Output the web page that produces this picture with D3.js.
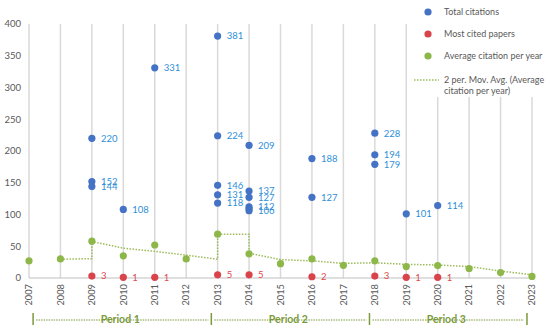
<!DOCTYPE html>
<html>
<head>
<meta charset="utf-8">
<script src="https://cdn.jsdelivr.net/npm/d3@7"></script>
<style>
	body { margin: 0; background: #fff; }
	svg { display: block; font-family: Lato, 'Open Sans', sans-serif; }
</style>
</head>
<body>
<div id="chart"></div>
<script>
// ? data
const years = d3.range(2007, 2024)
const yTicks = [0, 50, 100, 150, 200, 250, 300, 350, 400]

const totalYears = [2009, 2009, 2009, 2010, 2011, 2013, 2013, 2013, 2013, 2013, 2014, 2014, 2014, 2014, 2014, 2014, 2016, 2016, 2018, 2018, 2018, 2019, 2020]
const totalValues = [220, 152, 144, 108, 331, 381, 224, 146, 131, 118, 209, 137, 127, 112, 109, 106, 188, 127, 228, 194, 179, 101, 114]
const totalLabels = ['220', '152', '144', '108', '331', '381', '224', '146', '131', '118', '209', '137', '127', '112', '', '106', '188', '127', '228', '194', '179', '101', '114']

const mostYears = [2009, 2010, 2011, 2013, 2014, 2016, 2018, 2019, 2020]
const mostValues = [3, 1, 1, 5, 5, 2, 3, 1, 1]

const avgYears = years
const avgValues = [27, 30, 58, 35, 52, 30, 69, 38, 22.5, 30, 20, 27, 18, 19.5, 15, 8.5, 2.5]

// 2 per. moving average, as drawn (repeated years = vertical steps)
const movYears = [2008, 2009, 2009, 2010, 2011, 2012, 2013, 2013, 2014, 2014, 2015, 2016, 2017, 2018, 2019, 2020, 2021, 2022, 2023]
const movValues = [29.5, 30.5, 57.5, 47, 42, 36, 29.5, 69, 69, 39, 29, 27, 23, 24, 21.5, 20.5, 18, 11, 5]

const periods = ['Period 1', 'Period 2', 'Period 3']
const periodBounds = [2007.13, 2012.8, 2017.83, 2022.84]

const legendItems = [
	{ label: ['Total citations'], color: '#4472c4' },
	{ label: ['Most cited papers'], color: '#d9444a' },
	{ label: ['Average citation per year'], color: '#8db849' },
	{ label: ['2 per. Mov. Avg. (Average', 'citation per year)'], color: '#9bbb59', line: true },
]

function chart() {
	const width = 550
	const height = 331

	const x = d3.scaleLinear().domain([2007, 2023]).range([29, 532])
	const y = d3.scaleLinear().domain([0, 400]).range([278, 24])

	const svg = d3
		.create('svg')
		.attr('width', width)
		.attr('height', height)
		.attr('viewBox', [0, 0, width, height])

	// ? vertical gridlines
	svg.append('g')
		.selectAll('line')
		.data(years)
		.join('line')
		.attr('x1', (d) => x(d))
		.attr('x2', (d) => x(d))
		.attr('y1', y(400))
		.attr('y2', y(0))
		.attr('stroke', '#d9d9d9')
		.attr('stroke-width', 1.5)

	// ? bottom axis line
	svg.append('line')
		.attr('x1', x(2007))
		.attr('x2', x(2023))
		.attr('y1', y(0))
		.attr('y2', y(0))
		.attr('stroke', '#bfbfbf')
		.attr('stroke-width', 1)

	// y tick labels
	svg.append('g')
		.selectAll('text')
		.data(yTicks)
		.join('text')
		.attr('x', 21)
		.attr('y', (d) => y(d))
		.attr('dy', '0.35em')
		.attr('text-anchor', 'end')
		.attr('font-size', 9.5)
		.attr('fill', '#595959')
		.text((d) => d)

	// x tick labels, rotated
	svg.append('g')
		.selectAll('text')
		.data(years)
		.join('text')
		.attr('transform', (d) => `translate(${x(d)},284) rotate(-90)`)
		.attr('dy', '0.35em')
		.attr('text-anchor', 'end')
		.attr('font-size', 9.3)
		.attr('fill', '#595959')
		.text((d) => d)

	// ? moving average dotted line
	const line = d3
		.line()
		.x((d) => x(d[0]))
		.y((d) => y(d[1]))
	svg.append('path')
		.attr('d', line(d3.zip(movYears, movValues)))
		.attr('fill', 'none')
		.attr('stroke', '#9bbb59')
		.attr('stroke-width', 1.5)
		.attr('stroke-dasharray', '1.5 1.5')

	// green points
	svg.append('g')
		.selectAll('circle')
		.data(d3.zip(avgYears, avgValues))
		.join('circle')
		.attr('cx', (d) => x(d[0]))
		.attr('cy', (d) => y(d[1]))
		.attr('r', 3.6)
		.attr('fill', '#8db849')

	// blue points + labels
	const total = d3.zip(totalYears, totalValues, totalLabels)
	svg.append('g')
		.selectAll('circle')
		.data(total)
		.join('circle')
		.attr('cx', (d) => x(d[0]))
		.attr('cy', (d) => y(d[1]))
		.attr('r', 3.6)
		.attr('fill', '#4472c4')
	svg.append('g')
		.selectAll('text')
		.data(total.filter((d) => d[2] !== ''))
		.join('text')
		.attr('x', (d) => x(d[0]) + 9)
		.attr('y', (d) => y(d[1]))
		.attr('dy', '0.35em')
		.attr('font-size', 9.5)
		.attr('fill', '#2f8fd8')
		.text((d) => d[2])

	// red points + labels
	const most = d3.zip(mostYears, mostValues)
	svg.append('g')
		.selectAll('circle')
		.data(most)
		.join('circle')
		.attr('cx', (d) => x(d[0]))
		.attr('cy', (d) => y(d[1]))
		.attr('r', 3.6)
		.attr('fill', '#d9444a')
	svg.append('g')
		.selectAll('text')
		.data(most)
		.join('text')
		.attr('x', (d) => x(d[0]) + 9)
		.attr('y', (d) => y(d[1]))
		.attr('dy', '0.35em')
		.attr('font-size', 9.5)
		.attr('fill', '#e0474c')
		.text((d) => d[1])

	// ? legend (white box over the gridlines)
	const lg = svg.append('g')
	lg.append('rect')
		.attr('x', 410)
		.attr('y', 0)
		.attr('width', 140)
		.attr('height', 97)
		.attr('fill', '#fff')
	const rowY = [12, 34, 56, 80]
	legendItems.forEach((item, i) => {
		if (item.line) {
			lg.append('line')
				.attr('x1', 414)
				.attr('x2', 439)
				.attr('y1', rowY[i])
				.attr('y2', rowY[i])
				.attr('stroke', item.color)
				.attr('stroke-width', 1.5)
				.attr('stroke-dasharray', '1.5 1.5')
		} else {
			lg.append('circle')
				.attr('cx', 428)
				.attr('cy', rowY[i])
				.attr('r', 3.6)
				.attr('fill', item.color)
		}
		item.label.forEach((t, j) => {
			lg.append('text')
				.attr('x', 444)
				.attr('y', rowY[i] + j * 11)
				.attr('dy', '0.35em')
				.attr('font-size', 9)
				.attr('fill', '#595959')
				.text(t)
		})
	})

	// ? period brackets under the axis
	const pg = svg.append('g').attr('fill', '#7a9a3c').attr('stroke', '#7a9a3c')
	const py = 319
	periodBounds.forEach((b) => {
		pg.append('line')
			.attr('x1', x(b))
			.attr('x2', x(b))
			.attr('y1', py - 6)
			.attr('y2', py + 6)
			.attr('stroke-width', 1.5)
	})
	periods.forEach((p, i) => {
		const x0 = x(periodBounds[i])
		const x1 = x(periodBounds[i + 1])
		const cx = (x0 + x1) / 2 - 2
		const t = pg.append('text')
			.attr('x', cx)
			.attr('y', py)
			.attr('dy', '0.35em')
			.attr('text-anchor', 'middle')
			.attr('font-size', 10.5)
			.attr('font-weight', 'bold')
			.attr('stroke', 'none')
			.text(p)
		const w = t.node().getComputedTextLength()
		const segs = [
			[x0 + 3, cx - w / 2 - 5],
			[cx + w / 2 + 5, x1 - 3],
		]
		segs.forEach(([a, b]) => {
			pg.append('line')
				.attr('x1', a)
				.attr('x2', b)
				.attr('y1', py + 1)
				.attr('y2', py + 1)
				.attr('stroke-width', 1)
				.attr('stroke-dasharray', '1.5 1')
		})
	})

	document.getElementById('chart').appendChild(svg.node())
}

chart()
</script>
</body>
</html>
